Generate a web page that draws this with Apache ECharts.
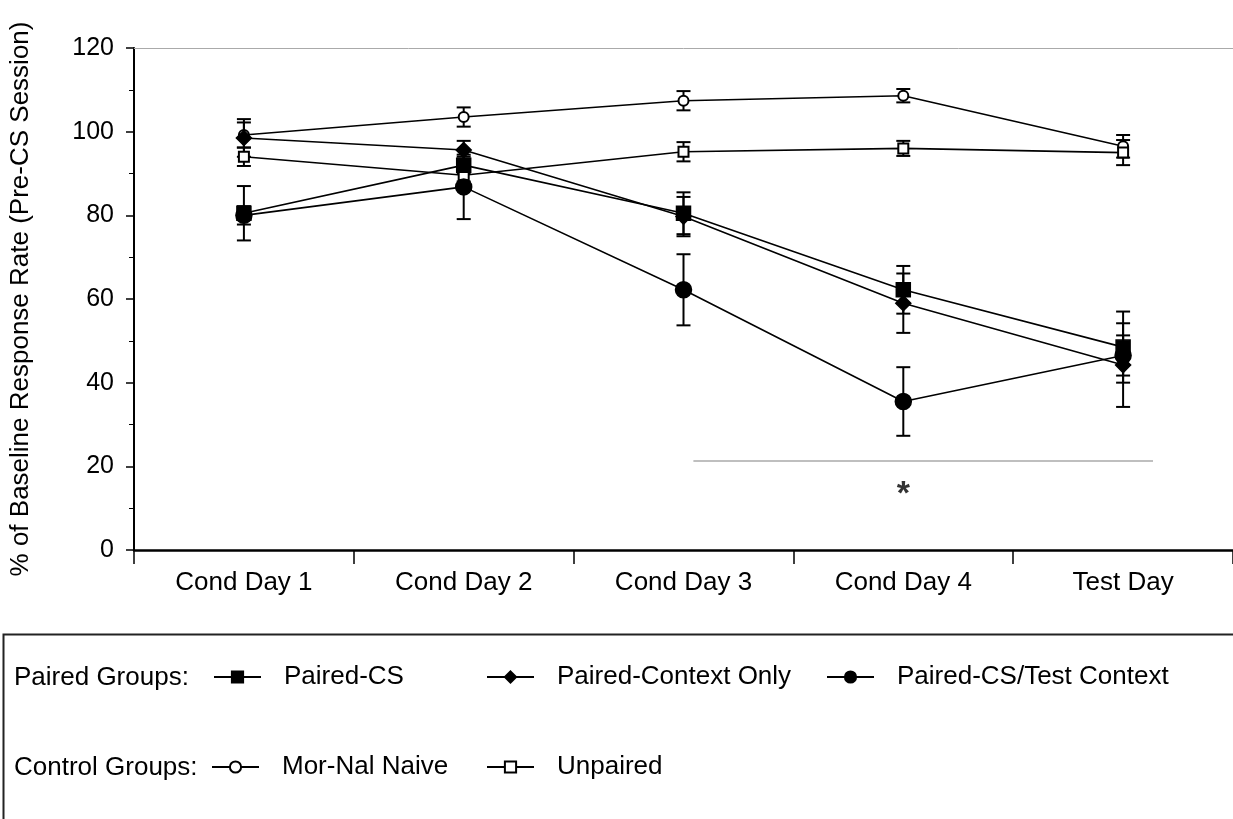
<!DOCTYPE html>
<html>
<head>
<meta charset="utf-8">
<script src="https://cdn.jsdelivr.net/npm/echarts@6/dist/echarts.min.js"></script>
<style>html,body{margin:0;padding:0;background:#fff;}#c{width:1233px;height:819px;}</style>
</head>
<body>
<div id="c"></div>
<script>
var categories = ['Cond Day 1', 'Cond Day 2', 'Cond Day 3', 'Cond Day 4', 'Test Day'];
var yTicks = [0, 20, 40, 60, 80, 100, 120];

var pairedCS = [80.5, 92, 80.5, 62.2, 48.5];
var pairedCSErr = [6.5, 2, 5, 5.7, 8.5];
var contextOnly = [98.5, 95.6, 79.7, 59, 44.2];
var contextOnlyErr = [4.5, 2.2, 4.7, 7.1, 10];
var csTest = [80, 86.8, 62.2, 35.5, 46.5];
var csTestErr = [2.2, 7.7, 8.5, 8.2, 4.8];
var naive = [99.2, 103.5, 107.4, 108.6, 96.5];
var naiveErr = [3, 2.3, 2.3, 1.6, 2.7];
var unpaired = [94, 89.6, 95.2, 96, 95];
var unpairedErr = [2.2, 1.5, 2.3, 1.8, 3];

var sigLineX = [2.545, 4.636];
var sigLineY = 21.3;
var starPos = [3.5, 13.2];

var FONT = 'Liberation Sans, Arial, sans-serif';

function errData(vals, errs) {
  return vals.map(function (v, i) { return [i, v - errs[i], v + errs[i]]; });
}
function errSeries(name, vals, errs) {
  return {
    name: name, type: 'custom', z: 1, silent: true,
    renderItem: function (params, api) {
      var x = api.value(0);
      var lo = api.coord([x, api.value(1)]);
      var hi = api.coord([x, api.value(2)]);
      var hw = 7;
      var st = { stroke: '#000', lineWidth: 2 };
      return { type: 'group', children: [
        { type: 'line', shape: { x1: lo[0], y1: lo[1], x2: hi[0], y2: hi[1] }, style: st },
        { type: 'line', shape: { x1: lo[0] - hw, y1: lo[1], x2: lo[0] + hw, y2: lo[1] }, style: st },
        { type: 'line', shape: { x1: hi[0] - hw, y1: hi[1], x2: hi[0] + hw, y2: hi[1] }, style: st }
      ]};
    },
    data: errData(vals, errs)
  };
}
function lineSeries(name, vals, symbol, size) {
  return {
    name: name, type: 'line', data: vals, z: 3,
    symbol: symbol, symbolSize: size,
    lineStyle: { color: '#000', width: 1.6 },
    itemStyle: { color: '#000', borderColor: '#000', borderWidth: 1.5 },
    emphasis: { disabled: true }
  };
}

var legendCommon = {
  orient: 'horizontal', itemWidth: 47, itemHeight: 14, selectedMode: false,
  textStyle: { fontSize: 26, color: '#000', fontFamily: FONT, padding: [0, 0, 0, 18] }
};
function mkLegend(name, left, top) {
  return Object.assign({}, legendCommon, { data: [name], left: left, top: top });
}

var chart = echarts.init(document.getElementById('c'), null, { renderer: 'canvas' });
chart.setOption({
  backgroundColor: '#fff',
  animation: false,
  textStyle: { fontFamily: FONT },
  grid: { left: 133, top: 48, right: 0, bottom: 269, containLabel: false },
  xAxis: [{
    type: 'category', data: categories, boundaryGap: true,
    axisLine: { lineStyle: { color: '#000', width: 2.5 } },
    axisTick: { show: true, length: 14, interval: 0, lineStyle: { color: '#000', width: 1.5 } },
    axisLabel: { fontSize: 26, color: '#000', margin: 20, fontFamily: FONT },
    splitLine: { show: false }
  }, {
    type: 'value', position: 'top', min: 0, max: 5,
    axisLine: { show: true, lineStyle: { color: '#aaa', width: 1 } },
    axisTick: { show: false }, axisLabel: { show: false }, splitLine: { show: false }
  }],
  yAxis: {
    type: 'value', min: yTicks[0], max: yTicks[yTicks.length - 1], interval: 20,
    name: '% of Baseline Response Rate (Pre-CS Session)',
    nameLocation: 'middle', nameGap: 100,
    nameTextStyle: { fontSize: 26, color: '#000', fontFamily: FONT },
    axisLine: { show: true, lineStyle: { color: '#000', width: 2 } },
    axisTick: { show: true, length: 8, lineStyle: { color: '#000', width: 1.5 } },
    minorTick: { show: true, splitNumber: 2, length: 5, lineStyle: { color: '#000', width: 1 } },
    axisLabel: { fontSize: 25, color: '#000', margin: 20, fontFamily: FONT },
    splitLine: { show: false }
  },
  legend: [
    mkLegend('Paired-CS', 208, 659),
    mkLegend('Paired-Context Only', 481, 659),
    mkLegend('Paired-CS/Test Context', 821, 659),
    mkLegend('Mor-Nal Naive', 206, 749),
    mkLegend('Unpaired', 481, 749)
  ],
  graphic: [
    { type: 'rect', left: 1, top: 632, shape: { width: 1240, height: 200 },
      style: { fill: 'none', stroke: '#222', lineWidth: 2 }, silent: true },
    { type: 'text', x: 14, y: 678, style: { text: 'Paired Groups:', fontSize: 26, fill: '#000', fontFamily: FONT, verticalAlign: 'middle' } },
    { type: 'text', x: 14, y: 768, style: { text: 'Control Groups:', fontSize: 26, fill: '#000', fontFamily: FONT, verticalAlign: 'middle' } }
  ],
  series: [
    errSeries('err-naive', naive, naiveErr),
    errSeries('err-unpaired', unpaired, unpairedErr),
    errSeries('err-cs', pairedCS, pairedCSErr),
    errSeries('err-context', contextOnly, contextOnlyErr),
    errSeries('err-cstest', csTest, csTestErr),
    lineSeries('Mor-Nal Naive', naive, 'emptyCircle', 10),
    lineSeries('Unpaired', unpaired, 'emptyRect', 10),
    lineSeries('Paired-CS', pairedCS, 'rect', 14),
    lineSeries('Paired-Context Only', contextOnly, 'diamond', 15),
    lineSeries('Paired-CS/Test Context', csTest, 'circle', 16),
    {
      name: 'sig', type: 'line', xAxisIndex: 1, symbol: 'none', silent: true,
      lineStyle: { color: '#aaa', width: 1.5 },
      data: [[sigLineX[0], sigLineY], [sigLineX[1], sigLineY]]
    },
    {
      name: 'star', type: 'scatter', xAxisIndex: 1, symbolSize: 0, silent: true,
      label: { show: true, formatter: '*', fontSize: 34, fontWeight: 'bold', color: '#000', position: 'inside', fontFamily: FONT },
      data: [starPos]
    }
  ]
});
</script>
</body>
</html>
